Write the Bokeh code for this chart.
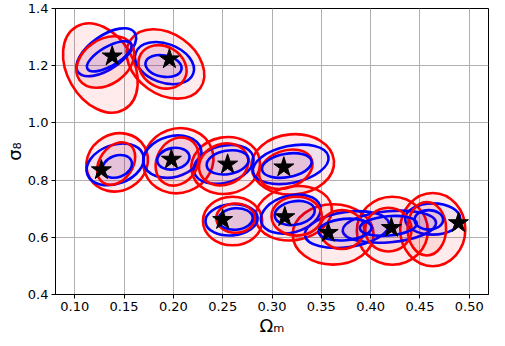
import numpy as np
from bokeh.plotting import figure
from bokeh.models import ColumnDataSource, FixedTicker, PrintfTickFormatter, Range1d
from bokeh.embed import file_html
from bokeh.resources import INLINE

# True parameter values (stars)
omega_m = [0.138, 0.196, 0.127, 0.198, 0.255, 0.312, 0.250, 0.313, 0.357, 0.421, 0.489]
sigma_8 = [1.233, 1.223, 0.835, 0.872, 0.855, 0.845, 0.661, 0.671, 0.616, 0.633, 0.650]

# Blue contours (approximated as ellipses): centre, axes (x-units, y-units), tilt in degrees
blue_out_x = [0.132, 0.191, 0.141, 0.199, 0.251, 0.319, 0.259, 0.319, 0.376, 0.419, 0.463]
blue_out_y = [1.247, 1.209, 0.855, 0.882, 0.855, 0.855, 0.661, 0.681, 0.627, 0.637, 0.664]
blue_out_w = [0.070, 0.062, 0.060, 0.060, 0.062, 0.078, 0.053, 0.062, 0.086, 0.095, 0.056]
blue_out_h = [0.116, 0.136, 0.136, 0.143, 0.129, 0.129, 0.109, 0.129, 0.123, 0.109, 0.109]
blue_out_a = [35, -20, 20, 15, 15, 12, 5, 15, 8, 5, 0]

blue_in_x = [0.135, 0.190, 0.143, 0.200, 0.255, 0.315, 0.263, 0.323, 0.374, 0.418, 0.459]
blue_in_y = [1.233, 1.199, 0.848, 0.875, 0.862, 0.851, 0.664, 0.685, 0.627, 0.640, 0.661]
blue_in_w = [0.051, 0.037, 0.031, 0.033, 0.043, 0.051, 0.035, 0.041, 0.054, 0.058, 0.029]
blue_in_h = [0.068, 0.075, 0.075, 0.075, 0.082, 0.082, 0.075, 0.082, 0.075, 0.068, 0.068]
blue_in_a = [30, -10, 20, 10, 10, 10, 5, 10, 5, 5, 0]

# Red contours
red_out_x = [0.126, 0.192, 0.143, 0.205, 0.253, 0.321, 0.260, 0.322, 0.362, 0.422, 0.463]
red_out_y = [1.192, 1.206, 0.862, 0.868, 0.851, 0.855, 0.657, 0.684, 0.610, 0.623, 0.627]
red_out_w = [0.097, 0.086, 0.064, 0.072, 0.070, 0.084, 0.060, 0.078, 0.082, 0.072, 0.066]
red_out_h = [0.232, 0.211, 0.198, 0.225, 0.198, 0.211, 0.170, 0.187, 0.211, 0.238, 0.256]
red_out_a = [-60, -35, 30, 20, 10, 5, 0, 10, 0, 0, 0]

red_in_x = [0.131, 0.189, 0.142, 0.204, 0.251, 0.314, 0.263, 0.325, 0.371, 0.418, 0.457]
red_in_y = [1.213, 1.196, 0.858, 0.865, 0.855, 0.838, 0.667, 0.674, 0.627, 0.627, 0.630]
red_in_w = [0.064, 0.051, 0.047, 0.051, 0.051, 0.056, 0.039, 0.051, 0.045, 0.047, 0.039]
red_in_h = [0.157, 0.143, 0.116, 0.143, 0.143, 0.129, 0.102, 0.136, 0.136, 0.153, 0.187]
red_in_a = [35, -30, 55, 60, 20, 20, 0, 0, 0, 0, 0]

x_ticks = [0.10, 0.15, 0.20, 0.25, 0.30, 0.35, 0.40, 0.45, 0.50]
y_ticks = [0.4, 0.6, 0.8, 1.0, 1.2, 1.4]

p = figure(width=489, height=338, output_backend="svg", toolbar_location=None,
           x_range=Range1d(0.0805, 0.5195), y_range=Range1d(0.4, 1.4),
           min_border_left=45, min_border_right=1, min_border_top=8, min_border_bottom=44)

def ell(xs, ys, ws, hs, angs, color, falpha):
    src = ColumnDataSource(dict(x=xs, y=ys, w=ws, h=hs, a=np.radians(angs)))
    p.ellipse(x="x", y="y", width="w", height="h", angle="a", source=src,
              fill_color=color, fill_alpha=falpha, line_color=color, line_width=2.6)

ell(red_out_x, red_out_y, red_out_w, red_out_h, red_out_a, "red", 0.08)
ell(blue_out_x, blue_out_y, blue_out_w, blue_out_h, blue_out_a, "blue", 0.05)
ell(red_in_x, red_in_y, red_in_w, red_in_h, red_in_a, "red", 0.08)
ell(blue_in_x, blue_in_y, blue_in_w, blue_in_h, blue_in_a, "blue", 0.05)

p.scatter(omega_m, sigma_8, marker="star", size=21, color="black")

p.xaxis.ticker = FixedTicker(ticks=x_ticks)
p.yaxis.ticker = FixedTicker(ticks=y_ticks)
p.xaxis.formatter = PrintfTickFormatter(format="%.2f")
p.yaxis.formatter = PrintfTickFormatter(format="%.1f")
for ax in (p.xaxis, p.yaxis):
    ax.major_label_text_font = "DejaVu Sans"
    ax.major_label_text_font_size = "13px"
    ax.major_label_text_color = "black"
    ax.major_label_standoff = 3
    ax.major_tick_out = 4
    ax.major_tick_in = 0
    ax.minor_tick_line_color = None
    ax.axis_line_color = "black"
    ax.major_tick_line_color = "black"
    ax.axis_label_text_font = "DejaVu Sans"
    ax.axis_label_text_font_size = "18px"
    ax.axis_label_text_font_style = "normal"
    ax.axis_label_text_color = "black"
p.xaxis.axis_label = "Ωₘ"
p.yaxis.axis_label = "σ₈"
p.xaxis.axis_label_standoff = 1
p.yaxis.axis_label_standoff = 0
p.grid.grid_line_color = "#b0b0b0"
p.grid.grid_line_width = 1
p.outline_line_color = "black"
p.outline_line_width = 1
p.background_fill_color = "white"

open("out.html", "w").write(file_html(p, INLINE))
